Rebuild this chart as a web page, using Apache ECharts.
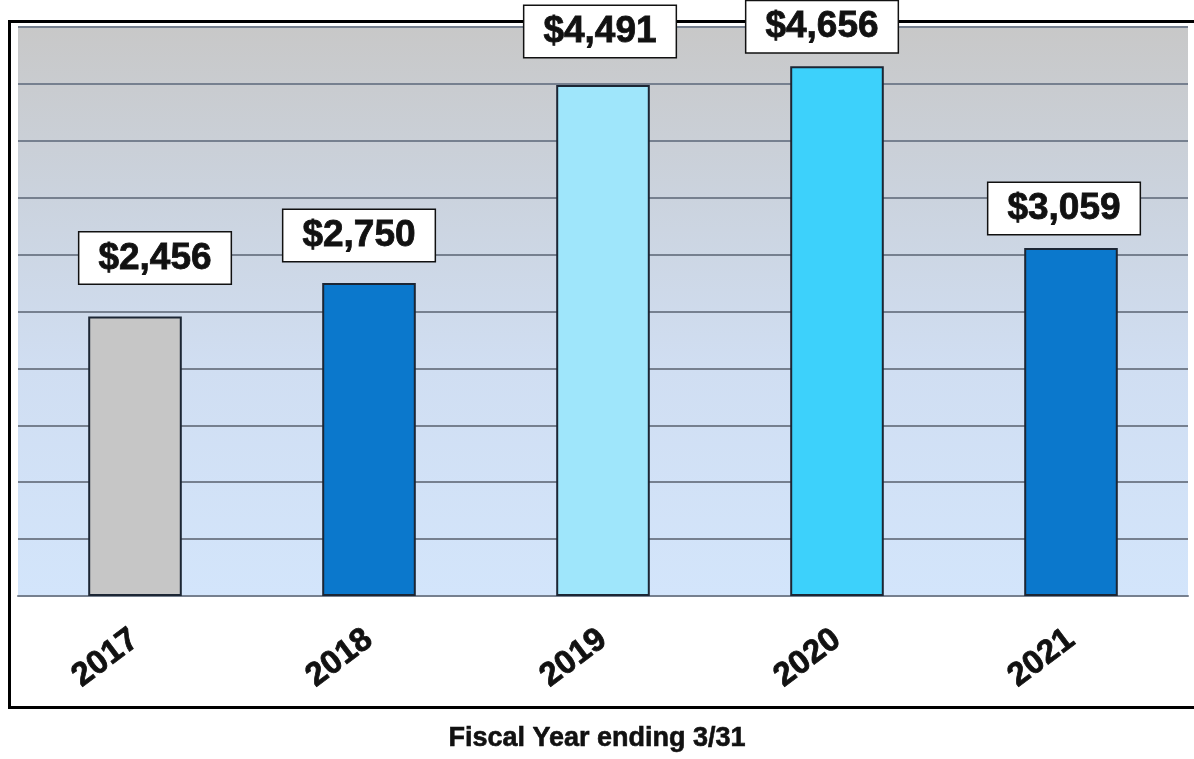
<!DOCTYPE html>
<html>
<head>
<meta charset="utf-8">
<script src="https://cdn.jsdelivr.net/npm/echarts@6/dist/echarts.min.js"></script>
<style>
html,body{margin:0;padding:0;background:#fff;}
#chart{width:1194px;height:759px;}
</style>
</head>
<body>
<div id="chart"></div>
<script>
// ---- data ----
var categories = ['2017', '2018', '2019', '2020', '2021'];
var values = [2456, 2750, 4491, 4656, 3059];
var axisTitle = 'Fiscal Year ending 3/31';
var yMin = 0, yMax = 5000, yInterval = 500;

// ---- styles (kept apart from data) ----
var barColors = ['#c6c6c6', '#0b78cc', '#9fe6fb', '#3dd1fb', '#0b78cc'];
var labelOffsets = [[20, -33], [-10, -22], [-3, -28], [-15, -14], [-7, -14]];

function fmt(v) {
  return '$' + v.toString().replace(/\B(?=(\d{3})+(?!\d))/g, ',');
}

var seriesData = values.map(function (v, i) {
  return {
    value: v,
    itemStyle: { color: barColors[i] },
    label: { offset: labelOffsets[i] }
  };
});

var FONT = 'Liberation Sans, Arial, sans-serif';
var chart = echarts.init(document.getElementById('chart'), null, { renderer: 'canvas' });
chart.setOption({
  animation: false,
  backgroundColor: '#ffffff',
  title: {
    text: axisTitle,
    left: 'center',
    top: 720,
    textStyle: { fontFamily: FONT, fontWeight: 'bold', fontSize: 27, color: '#111',
      textBorderColor: '#111', textBorderWidth: 0.6 }
  },
  graphic: [{
    type: 'rect',
    z: 1,
    shape: { x: 9.5, y: 21.5, width: 1200, height: 686 },
    style: { fill: 'none', stroke: '#000', lineWidth: 3 }
  }],
  grid: {
    left: 18, right: 6, top: 27, bottom: 163,
    show: true,
    borderWidth: 0,
    backgroundColor: {
      type: 'linear', x: 0, y: 0, x2: 0, y2: 1,
      colorStops: [
        { offset: 0, color: '#c8c8c8' },
        { offset: 0.3, color: '#cbd3de' },
        { offset: 0.6, color: '#d0def2' },
        { offset: 1, color: '#d3e5fb' }
      ]
    }
  },
  xAxis: {
    type: 'category',
    data: categories,
    axisLine: { show: true, lineStyle: { color: '#76808f', width: 2 } },
    axisTick: { show: false },
    axisLabel: {
      rotate: 37,
      margin: 40,
      fontFamily: FONT,
      fontWeight: 'bold',
      fontSize: 33,
      color: '#111',
      textBorderColor: '#111',
      textBorderWidth: 0.8
    }
  },
  yAxis: {
    type: 'value',
    min: yMin, max: yMax, interval: yInterval,
    axisLabel: { show: false },
    axisLine: { show: false },
    axisTick: { show: false },
    splitLine: { show: true, lineStyle: { color: '#76808f', width: 2 } }
  },
  series: [{
    type: 'bar',
    z: 5,
    data: seriesData,
    barWidth: '40%',
    itemStyle: { borderColor: '#1c2634', borderWidth: 2 },
    label: {
      show: true,
      position: 'top',
      distance: 0,
      formatter: function (p) { return fmt(p.value); },
      fontFamily: FONT,
      fontWeight: 'bold',
      fontSize: 37,
      lineHeight: 40,
      color: '#111',
      textBorderColor: '#111',
      textBorderWidth: 0.8,
      backgroundColor: '#ffffff',
      borderColor: '#111',
      borderWidth: 1.5,
      padding: [6, 19, 5, 19]
    }
  }]
});
</script>
</body>
</html>
